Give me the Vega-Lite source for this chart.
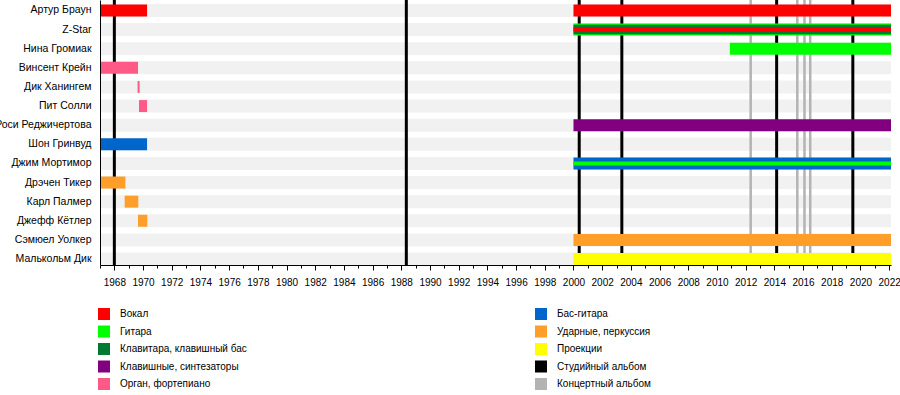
{
  "$schema": "https://vega.github.io/schema/vega-lite/v6.json",
  "width": 791,
  "height": 265,
  "autosize": {"type": "none"},
  "padding": {"left": 100, "top": 0, "right": 9, "bottom": 130},
  "background": "white",
  "config": {"view": {"stroke": null}, "font": "Liberation Sans"},
  "datasets": {
    "members": [
      {"member": "Артур Браун"}, {"member": "Z-Star"}, {"member": "Нина Громиак"},
      {"member": "Винсент Крейн"}, {"member": "Дик Ханингем"}, {"member": "Пит Солли"},
      {"member": "Роси Реджичертова"}, {"member": "Шон Гринвуд"}, {"member": "Джим Мортимор"},
      {"member": "Дрэчен Тикер"}, {"member": "Карл Палмер"}, {"member": "Джефф Кётлер"},
      {"member": "Сэмюел Уолкер"}, {"member": "Малькольм Дик"}
    ],
    "bars": [
      {"member": "Артур Браун", "role": "Вокал", "start": 1967, "end": 1970.28, "tier": 1},
      {"member": "Артур Браун", "role": "Вокал", "start": 2000, "end": 2022.13, "tier": 1},
      {"member": "Z-Star", "role": "Гитара", "start": 2000, "end": 2022.13, "tier": 1},
      {"member": "Z-Star", "role": "Клавитара, клавишный бас", "start": 2000, "end": 2022.13, "tier": 2},
      {"member": "Z-Star", "role": "Вокал", "start": 2000, "end": 2022.13, "tier": 3},
      {"member": "Нина Громиак", "role": "Гитара", "start": 2010.9, "end": 2022.13, "tier": 1},
      {"member": "Винсент Крейн", "role": "Орган, фортепиано", "start": 1967, "end": 1969.65, "tier": 1},
      {"member": "Дик Ханингем", "role": "Орган, фортепиано", "start": 1969.62, "end": 1969.76, "tier": 1},
      {"member": "Пит Солли", "role": "Орган, фортепиано", "start": 1969.72, "end": 1970.28, "tier": 1},
      {"member": "Роси Реджичертова", "role": "Клавишные, синтезаторы", "start": 2000, "end": 2022.13, "tier": 1},
      {"member": "Шон Гринвуд", "role": "Бас-гитара", "start": 1967, "end": 1970.28, "tier": 1},
      {"member": "Джим Мортимор", "role": "Бас-гитара", "start": 2000, "end": 2022.13, "tier": 1},
      {"member": "Джим Мортимор", "role": "Гитара", "start": 2000, "end": 2022.13, "tier": 3},
      {"member": "Дрэчен Тикер", "role": "Ударные, перкуссия", "start": 1967, "end": 1968.77, "tier": 1},
      {"member": "Карл Палмер", "role": "Ударные, перкуссия", "start": 1968.72, "end": 1969.67, "tier": 1},
      {"member": "Джефф Кётлер", "role": "Ударные, перкуссия", "start": 1969.65, "end": 1970.3, "tier": 1},
      {"member": "Сэмюел Уолкер", "role": "Ударные, перкуссия", "start": 2000, "end": 2022.13, "tier": 1},
      {"member": "Малькольм Дик", "role": "Проекции", "start": 2000, "end": 2022.13, "tier": 1}
    ],
    "albums": [
      {"year": 1968.0, "kind": "Студийный альбом"},
      {"year": 1988.35, "kind": "Студийный альбом"},
      {"year": 2000.4, "kind": "Студийный альбом"},
      {"year": 2003.37, "kind": "Студийный альбом"},
      {"year": 2014.16, "kind": "Студийный альбом"},
      {"year": 2019.47, "kind": "Студийный альбом"},
      {"year": 2012.35, "kind": "Концертный альбом"},
      {"year": 2015.6, "kind": "Концертный альбом"},
      {"year": 2016.1, "kind": "Концертный альбом"},
      {"year": 2016.5, "kind": "Концертный альбом"}
    ]
  },
  "layer": [
    {
      "data": {"name": "members"},
      "mark": {"type": "bar", "height": 13, "color": "#f1f1f1"},
      "encoding": {
        "y": {"field": "member", "type": "nominal", "sort": null,
          "scale": {"paddingInner": 0.372, "paddingOuter": 0.1175, "align": 1},
          "axis": {"title": null, "ticks": false, "domain": true, "domainColor": "black", "labelPadding": 9, "labelFontSize": 10.5, "labelColor": "black", "labelLimit": 0, "zindex": 1}},
        "x": {"datum": 1967, "type": "quantitative",
          "scale": {"domain": [1967, 2022.13], "nice": false, "zero": false}},
        "x2": {"datum": 2022.13}
      }
    },
    {
      "data": {"name": "albums"},
      "transform": [{"filter": "datum.kind === 'Студийный альбом'"}],
      "mark": {"type": "rule", "strokeWidth": 3, "color": "#000000"},
      "encoding": {
        "x": {"field": "year", "type": "quantitative"}
      }
    },
    {
      "data": {"name": "albums"},
      "transform": [{"filter": "datum.kind === 'Концертный альбом'"}],
      "mark": {"type": "rule", "strokeWidth": 2.5, "color": "#b3b3b3"},
      "encoding": {
        "x": {"field": "year", "type": "quantitative"}
      }
    },
    {
      "data": {"name": "bars"},
      "transform": [{"filter": "datum.tier === 1"}],
      "mark": {"type": "bar", "height": 12},
      "encoding": {
        "y": {"field": "member", "type": "nominal", "sort": null},
        "x": {"field": "start", "type": "quantitative",
          "axis": {"title": null, "tickCount": 56, "tickMinStep": 1,
            "labelExpr": "datum.value % 2 === 0 ? format(datum.value, 'd') : ''",
            "grid": false, "domainColor": "black", "tickColor": "black",
            "tickSize": {"condition": {"test": "datum.value % 2 === 0", "value": 5}, "value": 3},
            "labelPadding": 7, "labelFontSize": 10, "labelColor": "black", "labelFlush": false, "labelOverlap": false, "zindex": 1}},
        "x2": {"field": "end"},
        "color": {"field": "role", "type": "nominal",
          "scale": {
            "domain": ["Вокал", "Гитара", "Клавитара, клавишный бас", "Клавишные, синтезаторы", "Орган, фортепиано", "Бас-гитара", "Ударные, перкуссия", "Проекции", "Студийный альбом", "Концертный альбом"],
            "range": ["#ff0000", "#00ff00", "#007a33", "#800080", "#ff5a87", "#0066cc", "#ff9f2a", "#ffff00", "#000000", "#b3b3b3"]},
          "legend": {"orient": "none", "legendX": -2, "legendY": 308, "columns": 2, "columnPadding": 288, "rowPadding": 5.5,
            "symbolType": "square", "symbolSize": 144, "symbolStrokeWidth": 0, "symbolOpacity": 1,
            "labelFontSize": 10, "labelOffset": 10, "labelLimit": 0, "labelColor": "black", "title": null, "padding": 0}}
      }
    },
    {
      "data": {"name": "bars"},
      "transform": [{"filter": "datum.tier === 2"}],
      "mark": {"type": "bar", "height": 9.5},
      "encoding": {
        "y": {"field": "member", "type": "nominal", "sort": null},
        "x": {"field": "start", "type": "quantitative"},
        "x2": {"field": "end"},
        "color": {"field": "role", "type": "nominal"}
      }
    },
    {
      "data": {"name": "bars"},
      "transform": [{"filter": "datum.tier === 3"}],
      "mark": {"type": "bar", "height": 4},
      "encoding": {
        "y": {"field": "member", "type": "nominal", "sort": null},
        "x": {"field": "start", "type": "quantitative"},
        "x2": {"field": "end"},
        "color": {"field": "role", "type": "nominal"}
      }
    }
  ]
}
